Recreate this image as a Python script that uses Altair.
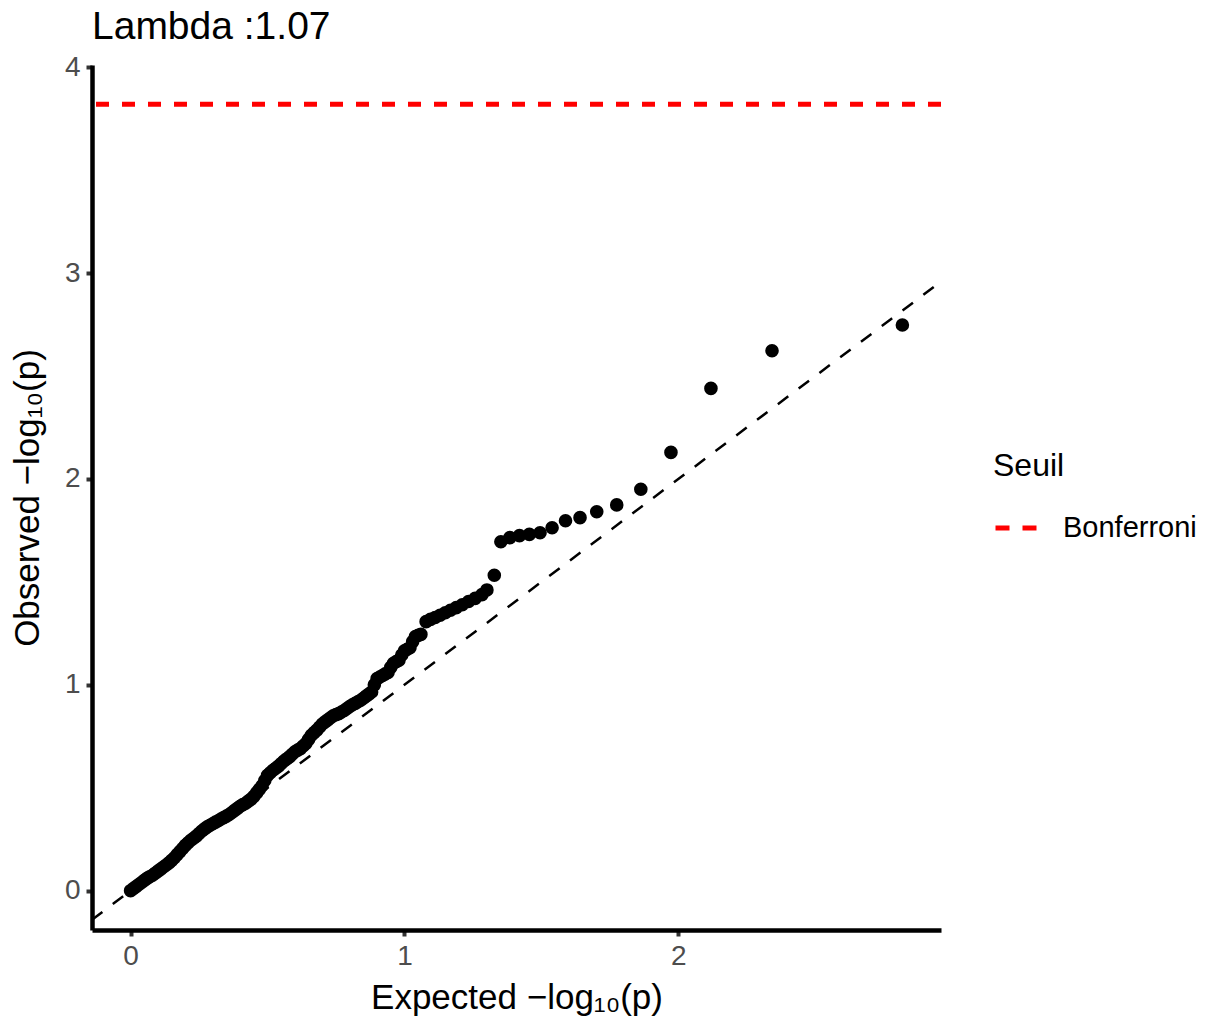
import altair as alt
import pandas as pd

# Expected -log10(p) (x) and observed -log10(p) (y)
expected = [0.00, 0.01, 0.02, 0.03, 0.04, 0.05, 0.06, 0.07, 0.08, 0.09,
            0.10, 0.11, 0.12, 0.13, 0.14, 0.15, 0.16, 0.17, 0.18, 0.19,
            0.20, 0.21, 0.22, 0.23, 0.24, 0.25, 0.26, 0.27, 0.28, 0.29,
            0.30, 0.31, 0.32, 0.33, 0.34, 0.35, 0.36, 0.37, 0.38, 0.39,
            0.40, 0.41, 0.42, 0.43, 0.44, 0.45, 0.46, 0.47, 0.48, 0.49,
            0.50, 0.51, 0.52, 0.53, 0.54, 0.55, 0.56, 0.57, 0.58, 0.59,
            0.60, 0.61, 0.62, 0.63, 0.64, 0.65, 0.66, 0.67, 0.68, 0.69,
            0.70, 0.71, 0.72, 0.73, 0.74, 0.75, 0.76, 0.77, 0.78, 0.79,
            0.80, 0.81, 0.82, 0.83, 0.84, 0.85, 0.86, 0.87, 0.88, 0.89,
            0.90, 0.91, 0.92, 0.93, 0.94, 0.95, 0.96, 0.97, 0.98, 0.99,
            1.00, 1.01, 1.02, 1.03, 1.04, 1.05, 1.06,
            1.079, 1.095, 1.112, 1.130, 1.149, 1.168, 1.189, 1.211, 1.234, 1.258,
            1.283, 1.301, 1.328, 1.352, 1.385, 1.420, 1.456, 1.495, 1.539, 1.588,
            1.641, 1.702, 1.775, 1.863, 1.973, 2.119, 2.342, 2.818]
observed = [0.000, 0.010, 0.020, 0.030, 0.040, 0.050, 0.060, 0.068, 0.075, 0.085,
            0.095, 0.105, 0.115, 0.125, 0.135, 0.147, 0.160, 0.175, 0.190, 0.205,
            0.220, 0.233, 0.245, 0.255, 0.265, 0.278, 0.290, 0.300, 0.310, 0.318,
            0.325, 0.333, 0.340, 0.348, 0.355, 0.362, 0.370, 0.380, 0.390, 0.400,
            0.410, 0.418, 0.425, 0.435, 0.445, 0.458, 0.475, 0.492, 0.510, 0.535,
            0.560, 0.573, 0.585, 0.595, 0.605, 0.618, 0.630, 0.640, 0.650, 0.663,
            0.675, 0.683, 0.690, 0.703, 0.715, 0.735, 0.755, 0.768, 0.780, 0.795,
            0.810, 0.820, 0.830, 0.840, 0.850, 0.855, 0.860, 0.868, 0.875, 0.885,
            0.895, 0.903, 0.910, 0.918, 0.925, 0.935, 0.945, 0.955, 0.965, 1.000,
            1.030, 1.038, 1.045, 1.053, 1.060, 1.085, 1.105, 1.113, 1.120, 1.145,
            1.165, 1.173, 1.180, 1.210, 1.235, 1.240, 1.245,
            1.307, 1.318, 1.327, 1.338, 1.350, 1.362, 1.375, 1.389, 1.405, 1.420,
            1.438, 1.461, 1.532, 1.695, 1.715, 1.725, 1.731, 1.739, 1.763, 1.797,
            1.812, 1.841, 1.874, 1.950, 2.129, 2.440, 2.623, 2.748]

# reference line y = x across the plotted range
ref_x = [-0.1409, 2.959]
ref_y = [-0.1409, 2.959]

# Bonferroni threshold
threshold = [3.82]
threshold_name = ["Bonferroni"]

FONT = "Liberation Sans"

pts = pd.DataFrame({"expected": expected, "observed": observed})
ref = pd.DataFrame({"x": ref_x, "y": ref_y})
thr = pd.DataFrame({"y": threshold, "Seuil": threshold_name})

xscale = alt.Scale(domain=[-0.1409, 2.959], nice=False, zero=False)
yscale = alt.Scale(domain=[-0.191, 4.011], nice=False, zero=False)

xaxis = alt.Axis(values=[0, 1, 2], title="Expected  −log₁₀(p)", format="d", titlePadding=10)
yaxis = alt.Axis(values=[0, 1, 2, 3, 4], title="Observed  −log₁₀(p)", format="d", titlePadding=19)

abline = alt.Chart(ref).mark_line(color="black", strokeDash=[13, 13], strokeWidth=2.5).encode(
    x=alt.X("x:Q", scale=xscale, axis=xaxis),
    y=alt.Y("y:Q", scale=yscale, axis=yaxis),
)

bonf = alt.Chart(thr).mark_rule(strokeWidth=5, strokeDash=[13, 13]).encode(
    y=alt.Y("y:Q", scale=yscale),
    color=alt.Color(
        "Seuil:N",
        scale=alt.Scale(domain=threshold_name, range=["#FF0000"]),
        legend=alt.Legend(
            title="Seuil",
            orient="none",
            legendX=901,
            legendY=386,
            symbolType="stroke",
            symbolSize=1681,
            symbolStrokeWidth=5,
            symbolDash=[14, 13],
            titleFontSize=32,
            titleFontWeight="normal",
            titleColor="black",
            titleFont=FONT,
            titlePadding=22,
            labelFontSize=29,
            labelFont=FONT,
            labelColor="black",
            labelOffset=24,
            padding=0,
        ),
    ),
)

points = alt.Chart(pts).mark_circle(size=185, color="black", opacity=1).encode(
    x=alt.X("expected:Q", scale=xscale),
    y=alt.Y("observed:Q", scale=yscale),
)

chart = (
    alt.layer(abline, bonf, points)
    .properties(
        width=849,
        height=865,
        title=alt.TitleParams(
            "Lambda :1.07",
            anchor="start",
            frame="group",
            fontSize=39,
            fontWeight="normal",
            font=FONT,
            color="black",
            offset=6,
        ),
        autosize=alt.AutoSizeParams(type="none"),
        padding={"left": 92, "top": 65, "right": 269, "bottom": 93},
    )
    .configure_view(stroke=None)
    .configure_axis(
        grid=False,
        domainColor="black",
        domainWidth=4.5,
        tickColor="#333333",
        tickWidth=4,
        tickSize=6,
        labelFont=FONT,
        labelFontSize=28,
        labelColor="#4D4D4D",
        labelPadding=6,
        titleFont=FONT,
        titleFontSize=35,
        titleFontWeight="normal",
        titleColor="black",
    )
)

chart.save("out.html", embed_options={"renderer": "svg", "actions": False})
